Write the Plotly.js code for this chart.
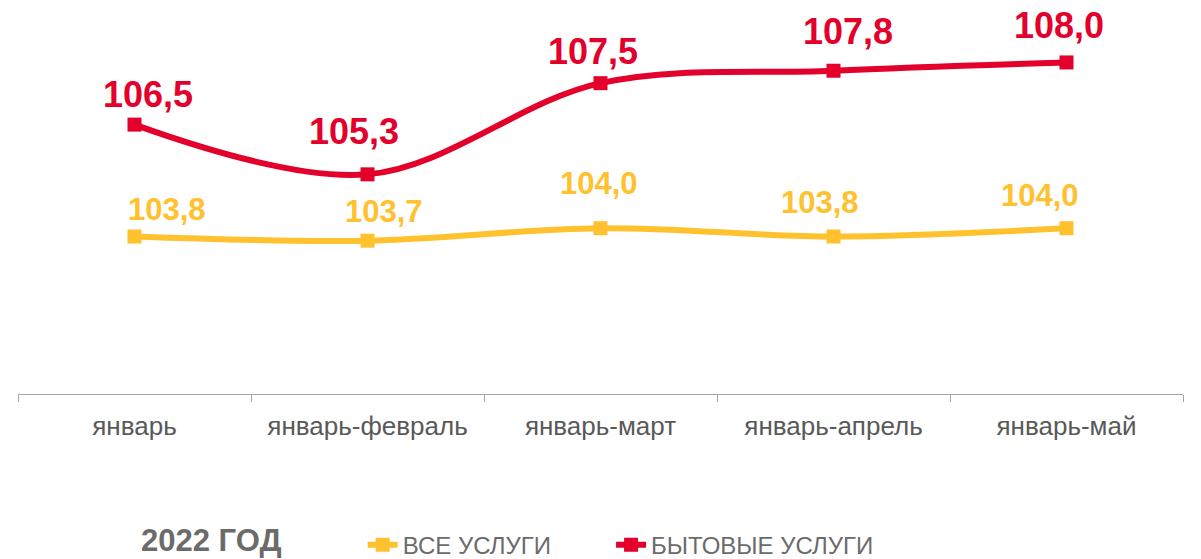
<!DOCTYPE html>
<html>
<head>
<meta charset="utf-8">
<script src="https://cdn.plot.ly/plotly-3.0.1.min.js"></script>
<style>html,body{margin:0;padding:0;background:#fff;}#chart{width:1201px;height:559px;}</style>
</head>
<body>
<div id="chart"></div>
<script>
// ---- data ----
const categories = ["январь", "январь-февраль", "январь-март", "январь-апрель", "январь-май"];
const allServices = [103.8, 103.7, 104.0, 103.8, 104.0];
const householdServices = [106.5, 105.3, 107.5, 107.8, 108.0];
const seriesNames = ["ВСЕ УСЛУГИ", "БЫТОВЫЕ УСЛУГИ"];
const legendTitle = "2022 ГОД";

// ---- label placement (pixel nudges, as in the original) ----
const labelNudgeAll = [[32, 27], [16, 29], [-2, 45], [-14, 34], [-27, 33]];
const labelNudgeHousehold = [[13, 30], [-14, 43], [-8, 32], [14, 39], [-8, 37]];

const fmt = v => v.toFixed(1).replace('.', ',');
const FONT = "Liberation Sans, Arial, sans-serif";
const YEL = "#FFC12E", RED = "#E3002B";

const traces = [
  {
    x: categories, y: allServices, name: seriesNames[0], legend: "legend",
    type: "scatter", mode: "lines+markers",
    line: {color: YEL, width: 6, shape: "spline", smoothing: 1},
    marker: {symbol: "square", size: 14, color: YEL},
    hoverinfo: "skip", cliponaxis: false
  },
  {
    x: categories, y: householdServices, name: seriesNames[1], legend: "legend2",
    type: "scatter", mode: "lines+markers",
    line: {color: RED, width: 6, shape: "spline", smoothing: 1},
    marker: {symbol: "square", size: 14, color: RED},
    hoverinfo: "skip", cliponaxis: false
  }
];

function labels(values, nudges, color, size) {
  return values.map((v, i) => ({
    x: categories[i], y: v, xref: "x", yref: "y",
    text: "<b>" + fmt(v) + "</b>", showarrow: false,
    xanchor: "center", yanchor: "middle",
    xshift: nudges[i][0], yshift: nudges[i][1],
    font: {family: FONT, size: size, color: color}
  }));
}

const legendCommon = {
  orientation: "h", xref: "container", yref: "container",
  y: 0.025, xanchor: "left", yanchor: "middle",
  font: {family: FONT, size: 24, color: "#6B6B6B"}
};

const layout = {
  width: 1201, height: 559,
  margin: {l: 18, r: 18, t: 21, b: 165},
  paper_bgcolor: "#fff", plot_bgcolor: "#fff",
  font: {family: FONT, color: "#595959"},
  showlegend: true,
  xaxis: {
    type: "category", range: [-0.5, 4.5],
    showline: true, linecolor: "#A6A6A6", linewidth: 1,
    ticks: "outside", tickson: "boundaries", ticklen: 7, tickcolor: "#A6A6A6",
    showgrid: false, zeroline: false, ticklabelstandoff: 9,
    tickfont: {family: FONT, size: 26, color: "#595959"}
  },
  yaxis: {
    range: [100, 109], visible: false, showgrid: false, zeroline: false, fixedrange: true
  },
  annotations: labels(allServices, labelNudgeAll, YEL, 31)
    .concat(labels(householdServices, labelNudgeHousehold, RED, 36))
    .concat([{
      text: "<b>" + legendTitle + "</b>", showarrow: false,
      xref: "paper", yref: "paper", x: (140 - 18) / 1165, y: (394 - 540) / 373,
      xanchor: "left", yanchor: "middle", borderpad: 0,
      font: {family: FONT, size: 31, color: "#6B6B6B"}
    }]),
  legend: Object.assign({}, legendCommon, {x: 0.302}),
  legend2: Object.assign({}, legendCommon, {x: 0.5088})
};

Plotly.newPlot("chart", traces, layout, {displayModeBar: false, staticPlot: true});
</script>
</body>
</html>
